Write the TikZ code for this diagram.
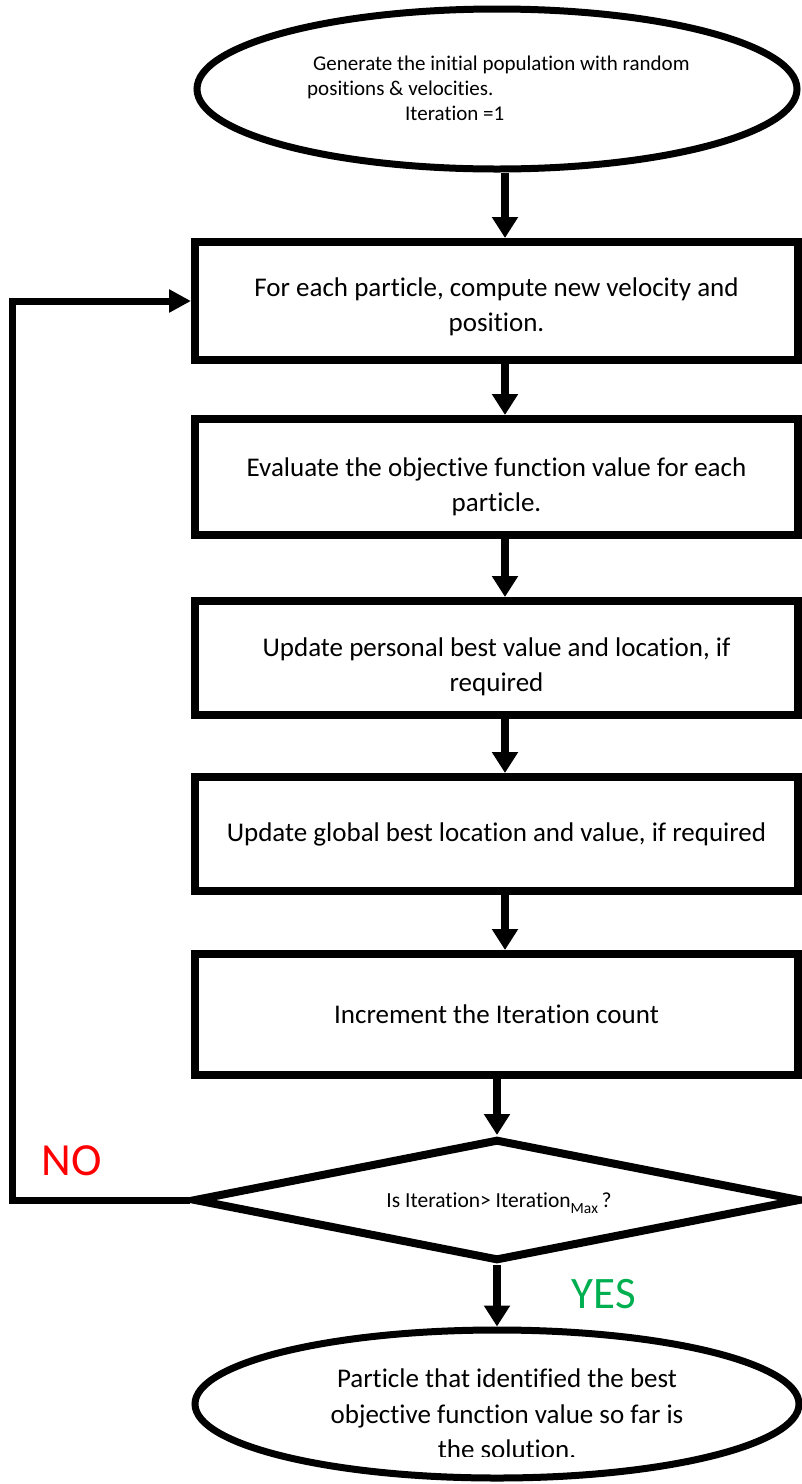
\documentclass[tikz,border=0pt]{standalone}
\usepackage{fontspec}
\setmainfont{Carlito}[Ligatures=NoCommon]
\usetikzlibrary{shapes.geometric,arrows.meta,calc}
\definecolor{nored}{RGB}{255,0,0}
\definecolor{yesgreen}{RGB}{0,176,80}
\begin{document}
\begin{tikzpicture}[x=1pt,y=-1pt,
  stepbox/.style={draw,line width=8pt,rectangle,minimum width=603pt,inner sep=0pt},
  boxtext/.style={inner sep=0pt,align=center,font=\fontsize{27}{35}\selectfont},
  oval/.style={draw,line width=7pt,ellipse,inner sep=0pt},
  arr/.style={line width=8pt,-{Triangle[width=25pt,length=21pt]}},
  loop/.style={line width=7pt,-{Triangle[width=22pt,length=22pt]}},
  lbl/.style={inner sep=0pt}]
\useasboundingbox (0,0) rectangle (802,1484);
% top ellipse
\node[oval,minimum width=600pt,minimum height=160pt] (e1) at (497,89) {};
\node[lbl,anchor=west,align=left,font=\fontsize{21}{25}\selectfont] (t1) at (307,88)
  {\hspace*{6pt}Generate the initial population with random\\positions \& velocities.\\\hspace*{98pt}Iteration =1};
% boxes
\node[stepbox,minimum height=118pt] (b1) at (496.5,301) {};
\node[stepbox,minimum height=116pt] (b2) at (496.5,477) {};
\node[stepbox,minimum height=114pt] (b3) at (496.5,658) {};
\node[stepbox,minimum height=114pt] (b4) at (496.5,834) {};
\node[stepbox,minimum height=121pt] (b5) at (496.5,1014.5) {};
\node[boxtext] (tb1) at ($(b1.center)+(0,6)$) {For each particle, compute new velocity and\\position.};
\node[boxtext] (tb2) at ($(b2.center)+(0,10)$) {Evaluate the objective function value for each\\particle.};
\node[boxtext] (tb3) at ($(b3.center)+(0,9)$) {Update personal best value and location, if\\required};
\node[boxtext] (tb4) at (b4.center) {Update global best location and value, if required};
\node[boxtext] (tb5) at (b5.center) {Increment the Iteration count};
% decision
\node[draw,line width=8pt,diamond,inner sep=0pt,minimum width=607pt,minimum height=122pt] (d) at (497,1200) {};
\node[lbl,font=\fontsize{21.5}{24}\selectfont] (dt) at (499,1203) {Is Iteration> Iteration\raisebox{-0.3em}{\fontsize{15.5}{16}\selectfont Max}\,?};
% bottom ellipse
\node[oval,minimum width=604pt,minimum height=148pt] (e2) at (497,1404) {};
\begin{scope}
\clip (150,1340) rectangle (760,1456);
\node[lbl,align=center,font=\fontsize{27}{35.5}\selectfont] (t2) at (507,1414)
  {Particle that identified the best\\objective function value so far is\\the solution.};
\end{scope}
% labels
\node[lbl,text=nored,font=\fontsize{46}{46}\selectfont] (no) at (72,1161) {NO};
\node[lbl,text=yesgreen,font=\fontsize{45}{45}\selectfont] (yes) at (604,1294) {YES};
% arrows
\coordinate (ax) at (505,0);
\coordinate (lp) at (12,0);
\draw[arr] (e1.south -| ax) -- (b1.north -| ax);
\draw[arr] (b1.south -| ax) -- (b2.north -| ax);
\draw[arr] (b2.south -| ax) -- (b3.north -| ax);
\draw[arr] (b3.south -| ax) -- (b4.north -| ax);
\draw[arr] (b4.south -| ax) -- (b5.north -| ax);
\draw[arr] (b5.south -| d.north) -- (d.north);
\draw[arr] (d.south) -- (e2.north);
\draw[loop] (d.west) -- (d.west -| lp) -- (lp |- b1.west) -- (b1.west);
\end{tikzpicture}
\end{document}
